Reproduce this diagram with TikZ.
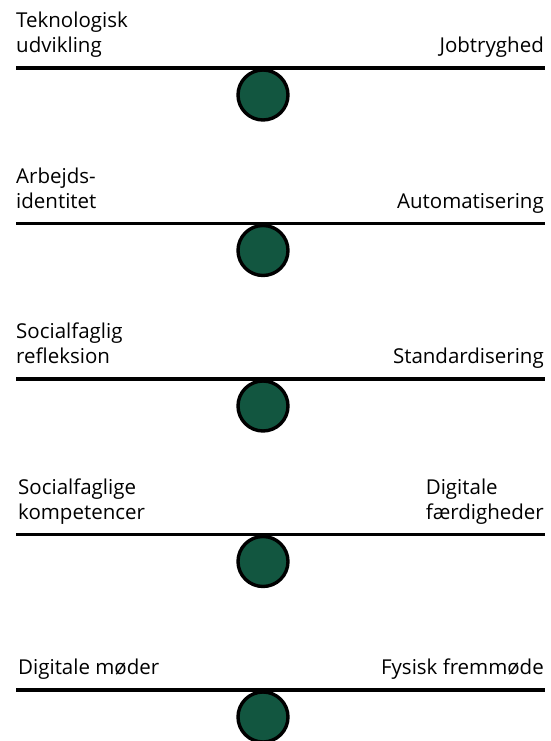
\documentclass[tikz,border=0pt]{standalone}
\usepackage{fontspec}
\setmainfont{Open Sans}
\definecolor{pivotgreen}{HTML}{125640}
\begin{document}
\begin{tikzpicture}[x=1pt,y=-1pt,
  beam/.style={line width=3.8pt},
  pivot/.style={circle, draw=black, line width=3.4pt, fill=pivotgreen, minimum size=50pt, inner sep=0pt},
  lbl/.style={inner sep=0pt, font=\fontsize{20.5}{25}\selectfont, align=left}]
\useasboundingbox (0,0) rectangle (551,741);
% seesaw 1
\node[pivot] (p1) at (263,95) {};
\coordinate (a1) at (16,68); \coordinate (b1) at (545,68);
\draw[beam] (a1) -- (b1);
\node[lbl, anchor=base west] (l1) at (16,52.5) {Teknologisk\\udvikling};
\node[lbl, anchor=base east] (r1) at (544,52.5) {Jobtryghed};
% seesaw 2
\node[pivot] (p2) at (263,250.5) {};
\coordinate (a2) at (16,223.5); \coordinate (b2) at (545,223.5);
\draw[beam] (a2) -- (b2);
\node[lbl, anchor=base west] (l2) at (16,208) {Arbejds-\\identitet};
\node[lbl, anchor=base east] (r2) at (544,208) {Automatisering};
% seesaw 3
\node[pivot] (p3) at (263,406) {};
\coordinate (a3) at (16,379); \coordinate (b3) at (545,379);
\draw[beam] (a3) -- (b3);
\node[lbl, anchor=base west] (l3) at (16,363.5) {Socialfaglig\\refleksion};
\node[lbl, anchor=base east] (r3) at (544,363.5) {Standardisering};
% seesaw 4
\node[pivot] (p4) at (263,561.5) {};
\coordinate (a4) at (16,534.5); \coordinate (b4) at (545,534.5);
\draw[beam] (a4) -- (b4);
\node[lbl, anchor=base west] (l4) at (18,519) {Socialfaglige\\kompetencer};
\node[lbl, anchor=base east] (r4) at (544,519) {Digitale\\færdigheder};
% seesaw 5
\node[pivot] (p5) at (263,717) {};
\coordinate (a5) at (16,690); \coordinate (b5) at (545,690);
\draw[beam] (a5) -- (b5);
\node[lbl, anchor=base west] (l5) at (18,674.5) {Digitale møder};
\node[lbl, anchor=base east] (r5) at (544,674.5) {Fysisk fremmøde};
\end{tikzpicture}
\end{document}
